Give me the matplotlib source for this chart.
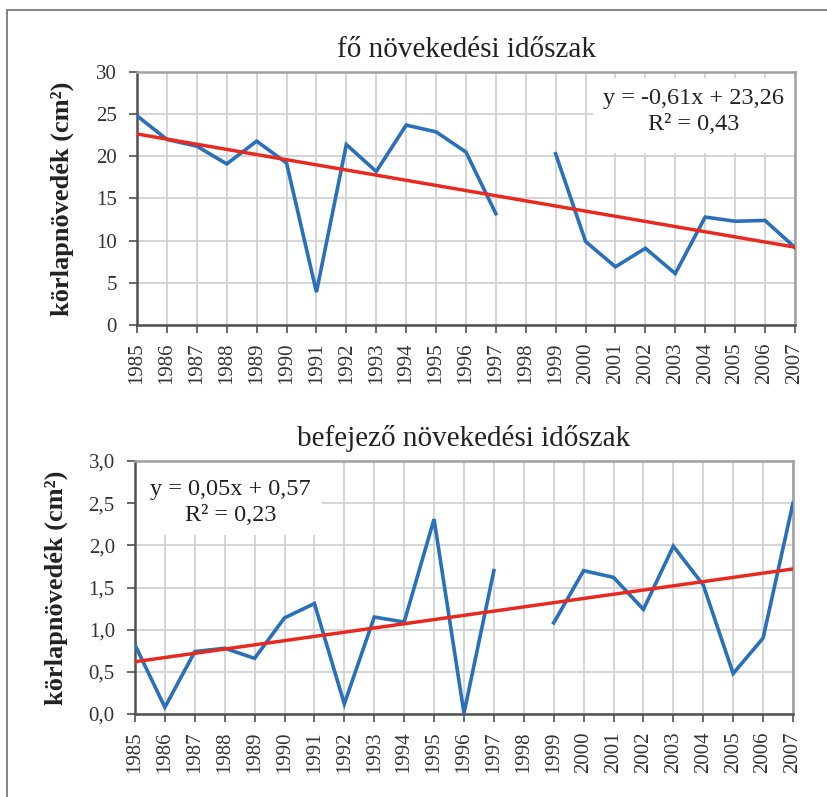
import numpy as np
import matplotlib
matplotlib.use('Agg')
import matplotlib.pyplot as plt
from matplotlib.patches import Rectangle

plt.rcParams['font.family'] = ['Liberation Serif', 'DejaVu Serif']

# evek (1998: nincs adat)
years = [1985, 1986, 1987, 1988, 1989, 1990, 1991, 1992, 1993, 1994, 1995, 1996,
         1997, 1998, 1999, 2000, 2001, 2002, 2003, 2004, 2005, 2006, 2007]

# fo novekedesi idoszak, korlapnovedek (cm2)
main_vals = [24.8, 22.0, 21.2, 19.1, 21.8, 19.2, 3.9, 21.4, 18.2, 23.7, 22.9, 20.5,
             13.2, np.nan, 20.3, 9.9, 6.9, 9.1, 6.1, 12.8, 12.3, 12.4, 9.2]
main_slope, main_icept, main_r2 = -0.61, 23.26, 0.43

# befejezo novekedesi idoszak
end_vals = [0.82, 0.08, 0.74, 0.78, 0.66, 1.14, 1.31, 0.12, 1.15, 1.09, 2.31, 0.01,
            1.70, np.nan, 1.08, 1.70, 1.62, 1.24, 1.99, 1.53, 0.48, 0.90, 2.50]
end_slope, end_icept, end_r2 = 0.05, 0.57, 0.23

blue = '#2a6fba'
red = '#e8291f'

fig = plt.figure(figsize=(8.28, 7.97), dpi=100)
fig.patches.append(Rectangle((7 / 828, -0.1), 1.2, 1 - 10 / 797 + 0.1,
                             transform=fig.transFigure, fill=False,
                             edgecolor='#6e6e6e', linewidth=1.2))

def fmt(v, dec):
    return f'{v:.{dec}f}'.replace('.', ',')

def draw(ax, vals, slope, icept, r2, title, ymax, ystep, dec, box, eqpos, lpad):
    x = np.arange(1, len(years) + 1)
    ax.plot(x, vals, color=blue, lw=2.6, zorder=3, solid_joinstyle='miter')
    ax.plot(x, slope * x + icept, color=red, lw=2.5, zorder=4)
    ax.set_xlim(1, len(years))
    ax.set_ylim(0, ymax)
    ax.set_xticks(x)
    ax.set_xticklabels([str(y) for y in years], rotation=90, fontsize=15)
    yt = np.arange(0, ymax + ystep / 2, ystep)
    ax.set_yticks(yt)
    ax.set_yticklabels([fmt(v, dec) for v in yt], fontsize=15)
    ax.grid(True, color='#d2d2d2', lw=1.3, zorder=0)
    ax.set_axisbelow(True)
    for s in ['left', 'bottom']:
        ax.spines[s].set_color('#505050')
        ax.spines[s].set_linewidth(1.8)
    for s in ['top', 'right']:
        ax.spines[s].set_color('#a0a0a0')
        ax.spines[s].set_linewidth(1.8)
    ax.tick_params(direction='out', length=5.5, width=1.2, color='#505050',
                   labelcolor='#333333')
    ax.tick_params(axis='x', pad=7)
    ax.tick_params(axis='y', pad=9)
    ax.set_title(title, fontsize=21, color='#222222', pad=11)
    ax.set_ylabel('körlapnövedék (cm²)', fontsize=19, fontweight='bold',
                  color='#222222', labelpad=lpad)
    # feher hatter az egyenlet mogott
    ax.add_patch(Rectangle((box[0], box[1]), box[2], box[3], transform=ax.transAxes,
                           facecolor='white', edgecolor='none', zorder=1))
    sign = '-' if slope < 0 else ''
    eq = f'y = {sign}{fmt(abs(slope), 2)}x + {fmt(icept, 2)}\nR² = {fmt(r2, 2)}'
    ax.text(eqpos[0], eqpos[1], eq, transform=ax.transAxes, fontsize=17.5,
            ha='center', va='center', multialignment='center', color='#222222',
            linespacing=1.35, zorder=5)

ax1 = fig.add_axes([0.1655, 0.5922, 0.7945, 0.3175])
draw(ax1, main_vals, main_slope, main_icept, main_r2, 'fő növekedési időszak',
     30, 5, 0, (0.693, 0.68, 0.307, 0.296), (0.846, 0.844), 16)

ax2 = fig.add_axes([0.163, 0.1041, 0.7947, 0.3175])
draw(ax2, end_vals, end_slope, end_icept, end_r2, 'befejező növekedési időszak',
     3.0, 0.5, 1, (0.0, 0.707, 0.284, 0.293), (0.145, 0.836), 15)

fig.savefig('out.png', dpi=100)
